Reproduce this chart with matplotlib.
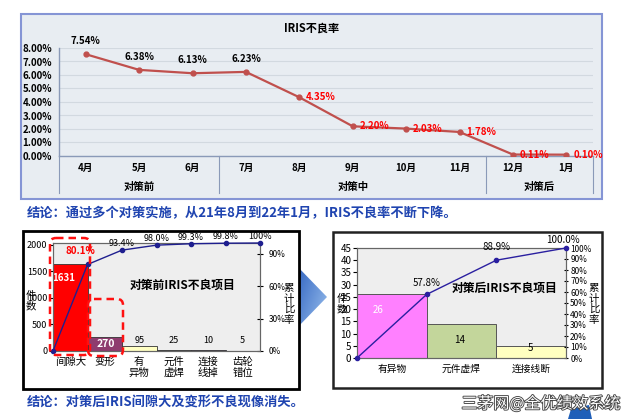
import numpy as np
import matplotlib
matplotlib.use('Agg')
import matplotlib.pyplot as plt
from matplotlib.patches import Rectangle, Polygon, FancyBboxPatch
from matplotlib.colors import LinearSegmentedColormap
import matplotlib.patheffects as pe

plt.rcParams['font.family'] = ['Noto Sans CJK SC', 'DejaVu Sans']

# ---------------- data ----------------
months = ['4月', '5月', '6月', '7月', '8月', '9月', '10月', '11月', '12月', '1月']
rates = [7.54, 6.38, 6.13, 6.23, 4.35, 2.20, 2.03, 1.78, 0.11, 0.10]
rate_ticks = [0, 1, 2, 3, 4, 5, 6, 7, 8]
phase_names = ['对策前', '对策中', '对策后']
phase_spans = [(0, 2), (3, 7), (8, 9)]

before_items = ['间隙大', '变形', '有\n异物', '元件\n虚焊', '连接\n线掉', '齿轮\n错位']
before_counts = [1631, 270, 95, 25, 10, 5]
before_cum = [80.1, 93.4, 98.0, 99.3, 99.8, 100.0]
before_cum_labels = ['80.1%', '93.4%', '98.0%', '99.3%', '99.8%', '100%']
before_left_ticks = [0, 500, 1000, 1500, 2000]
before_right_ticks = [0, 30, 60, 90]

after_items = ['有异物', '元件虚焊', '连接线断']
after_counts = [26, 14, 5]
after_cum = [57.8, 88.9, 100.0]
after_cum_labels = ['57.8%', '88.9%', '100.0%']
after_left_ticks = [0, 5, 10, 15, 20, 25, 30, 35, 40, 45]
after_right_ticks = [0, 10, 20, 30, 40, 50, 60, 70, 80, 90, 100]

W, H = 623, 419
fig = plt.figure(figsize=(W / 100, H / 100), dpi=100)
fig.patch.set_facecolor('white')


def px_axes(x0, y0, x1, y1, **kw):
    return fig.add_axes([x0 / W, 1 - y1 / H, (x1 - x0) / W, (y1 - y0) / H], **kw)


def ftxt(x, y, s, **kw):
    return fig.text(x / W, 1 - y / H, s, **kw)


# ---------------- background layer ----------------
bg = fig.add_axes([0, 0, 1, 1], zorder=-5)
bg.axis('off')
bg.add_patch(Rectangle((21, 14), 581, 185, fc='#e8edf2', ec='#8595d5', lw=1.5))

# arrow with gradient
tri = Polygon([(296, 265), (327, 297), (296, 329)], closed=True, fc='none', ec='none')
bg.add_patch(tri)
gx, gy = np.meshgrid(np.linspace(0, 1, 60), np.linspace(0, 1, 60))
grad = 0.6 * gx + 0.4 * gy
cmap = LinearSegmentedColormap.from_list('arr', ['#2f62c0', '#9cc2ee'])
im = bg.imshow(grad, extent=(296, 328, 329, 265), cmap=cmap, aspect='auto', zorder=1)
im.set_clip_path(tri)

bg.add_patch(Rectangle((23, 231), 276, 158, fc='white', ec='black', lw=2, zorder=3))
bg.add_patch(Rectangle((333, 232), 269, 156, fc='white', ec='#222222', lw=1.8, zorder=3))
bg.add_patch(Polygon([(568, 419), (571, 409), (589, 405), (592, 419)], closed=True,
                     fc='#1f5fb8', ec='none', zorder=3))
bg.set_xlim(0, W)
bg.set_ylim(H, 0)

# ---------------- top line chart ----------------
ax1 = px_axes(59, 48, 593, 156)
ax1.patch.set_alpha(0)
x = np.arange(len(months))
ax1.set_xlim(-0.5, len(months) - 0.5)
ax1.set_ylim(0, 8)
for s in ['top', 'right']:
    ax1.spines[s].set_visible(False)
for s in ['left', 'bottom']:
    ax1.spines[s].set_color('#8a9ab8')
    ax1.spines[s].set_linewidth(1)
ax1.set_yticks(rate_ticks)
ax1.set_yticklabels([f'{v:.2f}%' for v in rate_ticks], fontsize=7, fontweight='bold')
ax1.tick_params(axis='y', length=0, pad=5)
ax1.yaxis.grid(True, color='#d2d9e0', lw=0.8)
ax1.set_axisbelow(True)
ax1.set_xticks(x)
ax1.set_xticklabels(months, fontsize=7, fontweight='bold')
ax1.tick_params(axis='x', length=0, pad=5)
ax1.plot(x, rates, color='#c0504d', lw=1.6, marker='o', ms=3.5, zorder=3)
for i, v in enumerate(rates):
    if i < 4:
        ax1.annotate(f'{v:.2f}%', (i, v), xytext=(0, 6), textcoords='offset points',
                     ha='center', va='bottom', fontsize=7, fontweight='bold', color='black')
    else:
        ax1.annotate(f'{v:.2f}%', (i, v), xytext=(5, 0), textcoords='offset points',
                     ha='left', va='center', fontsize=7, fontweight='bold', color='#ff0000')
trans = ax1.get_xaxis_transform()
for name, (a, b) in zip(phase_names, phase_spans):
    ax1.text((a + b) / 2, -0.287, name, transform=trans, ha='center', va='center',
             fontsize=7.5, fontweight='bold')
for bnd in [-0.5, 2.5, 7.5, 9.5]:
    ax1.plot([bnd, bnd], [0, -0.34], transform=trans, color='#8a9ab8', lw=0.8, clip_on=False)
ftxt(312, 28, 'IRIS不良率', ha='center', va='center', fontsize=8, fontweight='bold')

# conclusions
ftxt(27, 213, '结论：通过多个对策实施，从21年8月到22年1月，IRIS不良率不断下降。',
     ha='left', va='center', fontsize=9.5, fontweight='bold', color='#1f44b0')
ftxt(27, 403, '结论：对策后IRIS间隙大及变形不良现像消失。',
     ha='left', va='center', fontsize=9.5, fontweight='bold', color='#1f44b0')

# ---------------- bottom-left pareto ----------------
ax2 = px_axes(53, 243, 260, 351)
ax2.set_facecolor('#eeeeee')
xb = np.arange(len(before_items))
ax2.set_xlim(-0.5, len(before_items) - 0.5)
ax2.set_ylim(0, sum(before_counts))
bcolors = ['#ff0000', '#8e3b6e', '#ffffc2', '#5a5a5a', '#4b3b6b', '#6a6a6a']
ax2.bar(xb, before_counts, width=1.0, color=bcolors, edgecolor='#333333', lw=0.6, zorder=2)
for s in ax2.spines.values():
    s.set_color('#666666')
    s.set_linewidth(0.8)
ax2.set_yticks(before_left_ticks)
ax2.set_yticklabels([str(v) for v in before_left_ticks], fontsize=6.5)
ax2.tick_params(axis='y', length=3, pad=1)
ax2.set_xticks(xb)
ax2.set_xticklabels(before_items, fontsize=7.5)
for t in ax2.get_xticklabels():
    t.set_linespacing(1.15)
ax2.tick_params(axis='x', length=0, pad=4)
ax2.annotate(str(before_counts[0]), (0, before_counts[0]), xytext=(-5, -10), textcoords='offset points',
             ha='center', va='center', fontsize=7, fontweight='bold', color='white', zorder=4)
ax2.annotate(str(before_counts[1]), (1, before_counts[1]), xytext=(0.7, -5), textcoords='offset points',
             ha='center', va='center', fontsize=7.5, fontweight='bold', color='white', zorder=4)
for i in range(2, len(before_counts)):
    ax2.text(i, 190, str(before_counts[i]), ha='center', va='center', fontsize=6.5, color='black', zorder=4)

ax2r = ax2.twinx()
ax2r.set_ylim(0, 100)
ax2r.set_yticks(before_right_ticks)
ax2r.set_yticklabels([f'{v}%' for v in before_right_ticks], fontsize=6)
ax2r.tick_params(axis='y', direction='inout', length=4, pad=4)
for s in ax2r.spines.values():
    s.set_color('#666666')
    s.set_linewidth(0.8)
xc = np.concatenate([[-0.5], xb + 0.5])
ax2r.plot(xc, [0] + before_cum, color='#1f1f8f', lw=1, marker='o', ms=3, zorder=5, clip_on=False)
for i, (v, lab) in enumerate(zip(before_cum, before_cum_labels)):
    if i == 0:
        ax2r.annotate(lab, (i + 0.5, v), xytext=(-5, 9.5), textcoords='offset points',
                      ha='center', va='center', fontsize=7, fontweight='bold', color='#ff0000')
    else:
        ax2r.annotate(lab, (i + 0.5, v), xytext=(0, 4.5), textcoords='offset points',
                      ha='center', va='center', fontsize=6.5, color='black')
ftxt(182, 285, '对策前IRIS不良项目', ha='center', va='center', fontsize=8.5, fontweight='bold')
ftxt(31, 301, '件\n数', ha='center', va='center', fontsize=7.5, linespacing=1.0)
ftxt(289, 304, '累\n计\n比\n率', ha='center', va='center', fontsize=7.5, linespacing=1.05)

# ---------------- bottom-right pareto ----------------
ax3 = px_axes(357, 248, 566, 358)
ax3.set_facecolor('#eeeeee')
xa = np.arange(len(after_items))
ax3.set_xlim(-0.5, len(after_items) - 0.5)
ax3.set_ylim(0, sum(after_counts))
acolors = ['#ff80ff', '#c3d69b', '#ffffc0']
ax3.bar(xa, after_counts, width=1.0, color=acolors, edgecolor='#555555', lw=0.7, zorder=2)
for s in ax3.spines.values():
    s.set_color('#666666')
    s.set_linewidth(0.8)
ax3.set_yticks(after_left_ticks)
ax3.set_yticklabels([str(v) for v in after_left_ticks], fontsize=7)
ax3.tick_params(axis='y', length=3, pad=1)
ax3.set_xticks(xa)
ax3.set_xticklabels(after_items, fontsize=7)
ax3.tick_params(axis='x', length=0, pad=4)
ax3.text(-0.2, 19.6, str(after_counts[0]), ha='center', va='center', fontsize=7, color='white', zorder=4)
ax3.text(0.97, 7.4, str(after_counts[1]), ha='center', va='center', fontsize=7, color='black', zorder=4)
ax3.text(1.99, 4.1, str(after_counts[2]), ha='center', va='center', fontsize=7, color='black', zorder=4)

ax3r = ax3.twinx()
ax3r.set_ylim(0, 100)
ax3r.set_yticks(after_right_ticks)
ax3r.set_yticklabels([f'{v}%' for v in after_right_ticks], fontsize=6)
ax3r.tick_params(axis='y', direction='inout', length=3, pad=1.5)
for s in ax3r.spines.values():
    s.set_color('#666666')
    s.set_linewidth(0.8)
xc3 = np.concatenate([[-0.5], xa + 0.5])
ax3r.plot(xc3, [0] + after_cum, color='#2a1fa0', lw=1, marker='o', ms=3, zorder=5, clip_on=False)
offs = [(0, 8), (0, 9.5), (-2, 6)]
for i, (v, lab) in enumerate(zip(after_cum, after_cum_labels)):
    ax3r.annotate(lab, (i + 0.5, v), xytext=offs[i], textcoords='offset points',
                  ha='center', va='center', fontsize=7, color='black')
ftxt(505, 288, '对策后IRIS不良项目', ha='center', va='center', fontsize=8.5, fontweight='bold')
ftxt(342, 304, '件\n数', ha='center', va='center', fontsize=7.5, linespacing=1.0)
ftxt(594, 304, '累\n计\n比\n率', ha='center', va='center', fontsize=7.5, linespacing=1.05)

# ---------------- foreground decorations ----------------
fg = fig.add_axes([0, 0, 1, 1], zorder=10)
fg.axis('off')
fg.patch.set_alpha(0)
fg.add_patch(FancyBboxPatch((50, 238), 40, 117, boxstyle='round,pad=0,rounding_size=6',
                            fc='none', ec='#ff1010', lw=1.8, ls=(0, (3, 2))))
fg.add_patch(FancyBboxPatch((88, 299), 35, 57, boxstyle='round,pad=0,rounding_size=6',
                            fc='none', ec='#ff1010', lw=1.8, ls=(0, (3, 2))))
fg.set_xlim(0, W)
fg.set_ylim(H, 0)

ftxt(541, 404, '三茅网@全优绩效系统', ha='center', va='center', fontsize=11.5, color='white',
     path_effects=[pe.withStroke(linewidth=1.3, foreground='#444444')], zorder=11)

fig.savefig('out.png', dpi=100)
